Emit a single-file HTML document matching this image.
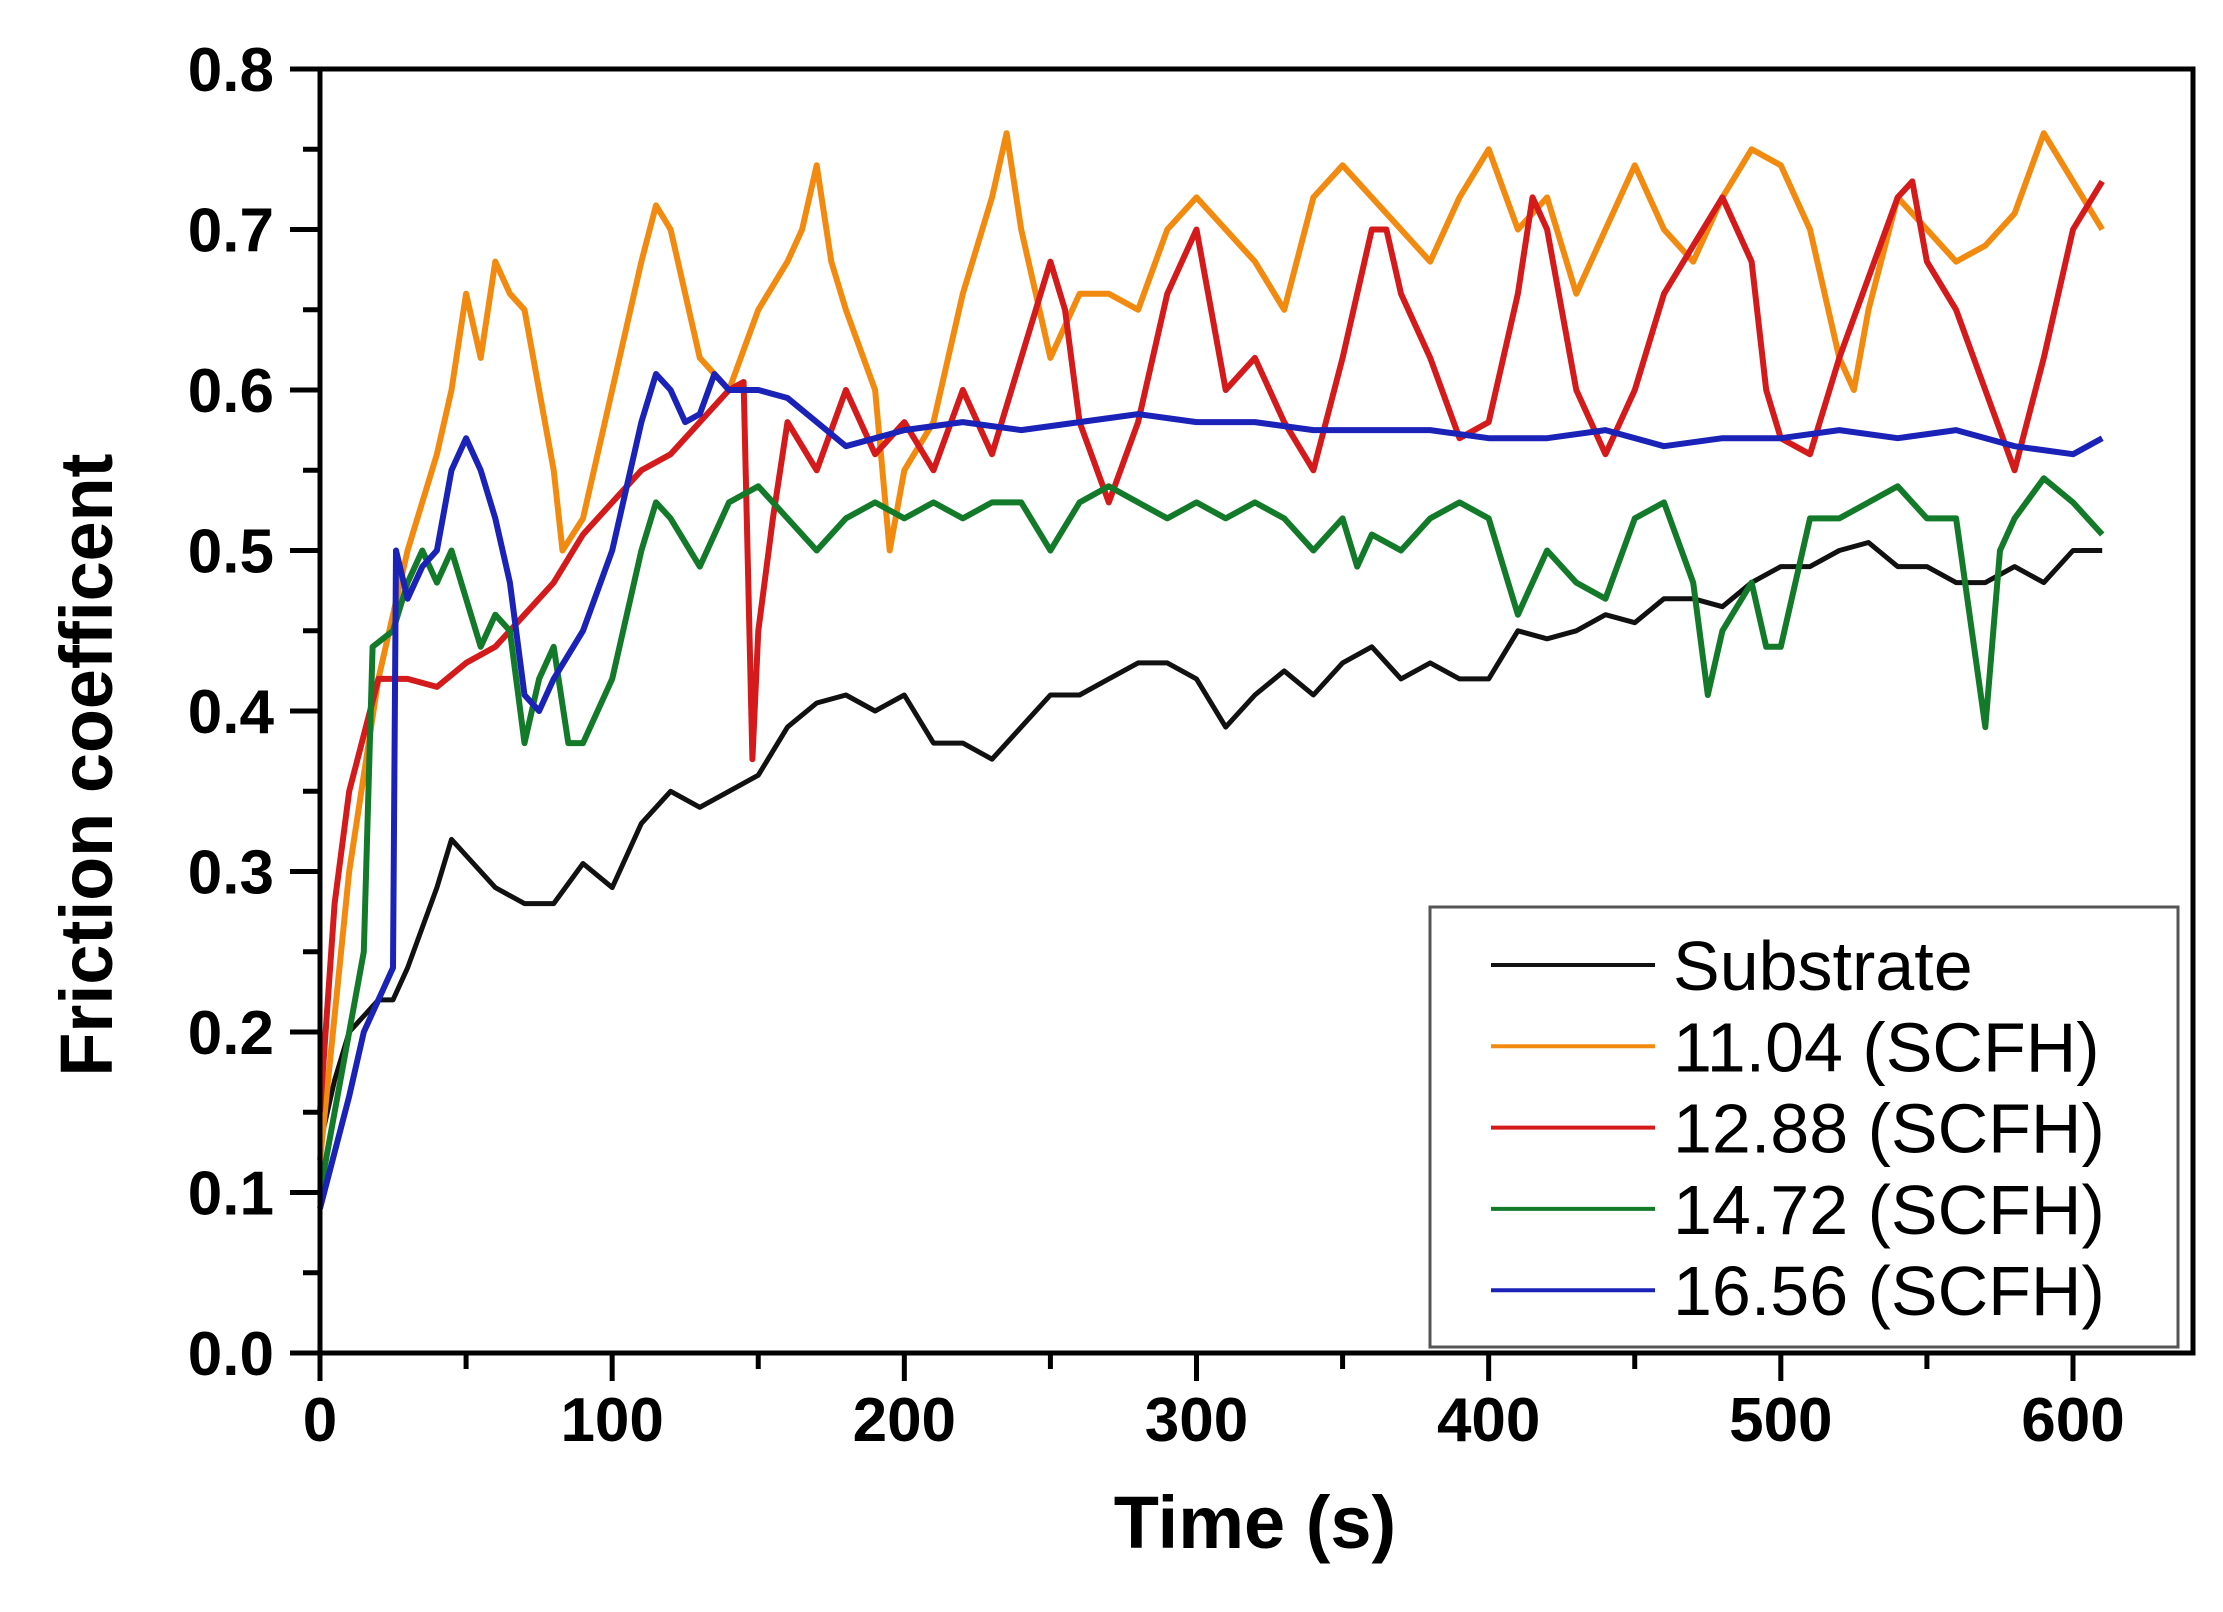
<!DOCTYPE html>
<html><head><meta charset="utf-8"><style>
html,body{margin:0;padding:0;background:#fff;}
svg{display:block;font-family:"Liberation Sans",Arial,sans-serif;}
</style></head><body>
<svg id="chart" width="2223" height="1612" viewBox="0 0 2223 1612" xmlns="http://www.w3.org/2000/svg">
<g id="plot"></g>
<g id="axes"></g>
<g id="legend"></g>
</svg>
<script>
const xTicks=[0,100,200,300,400,500,600];
const yTicks=[0.0,0.1,0.2,0.3,0.4,0.5,0.6,0.7,0.8];
const seriesNames=["Substrate","11.04 (SCFH)","12.88 (SCFH)","14.72 (SCFH)","16.56 (SCFH)"];
const subT=[0,5,10,15,20,25,30,40,45,50,60,70,80,90,100,110,120,130,140,150,160,170,180,190,200,210,220,230,240,250,260,270,280,290,300,310,320,330,340,350,360,370,380,390,400,410,420,430,440,450,460,470,480,490,500,510,520,530,540,550,560,570,580,590,600,610];
const subV=[0.13,0.17,0.2,0.21,0.22,0.22,0.24,0.29,0.32,0.31,0.29,0.28,0.28,0.305,0.29,0.33,0.35,0.34,0.35,0.36,0.39,0.405,0.41,0.40,0.41,0.38,0.38,0.37,0.39,0.41,0.41,0.42,0.43,0.43,0.42,0.39,0.41,0.425,0.41,0.43,0.44,0.42,0.43,0.42,0.42,0.45,0.445,0.45,0.46,0.455,0.47,0.47,0.465,0.48,0.49,0.49,0.50,0.505,0.49,0.49,0.48,0.48,0.49,0.48,0.50,0.50];
const orT=[0,10,20,30,40,45,50,55,60,65,70,80,83,90,100,110,115,120,130,140,150,160,165,170,175,180,190,195,200,210,220,230,235,240,250,260,270,280,290,300,310,320,330,340,350,360,370,380,390,400,410,420,430,440,450,460,470,480,490,500,510,520,525,530,540,550,560,570,580,590,600,610];
const orV=[0.12,0.3,0.42,0.5,0.56,0.6,0.66,0.62,0.68,0.66,0.65,0.55,0.5,0.52,0.6,0.68,0.715,0.7,0.62,0.6,0.65,0.68,0.7,0.74,0.68,0.65,0.6,0.5,0.55,0.58,0.66,0.72,0.76,0.7,0.62,0.66,0.66,0.65,0.7,0.72,0.7,0.68,0.65,0.72,0.74,0.72,0.7,0.68,0.72,0.75,0.7,0.72,0.66,0.7,0.74,0.7,0.68,0.72,0.75,0.74,0.7,0.62,0.6,0.65,0.72,0.7,0.68,0.69,0.71,0.76,0.73,0.7];
const rdT=[0,5,10,20,30,40,50,60,70,80,90,100,110,120,130,140,145,148,150,155,160,170,180,190,200,210,220,230,240,250,255,260,270,280,290,300,310,320,330,340,350,360,365,370,380,390,400,410,415,420,430,440,450,460,470,480,490,495,500,510,520,530,540,545,550,560,570,580,590,600,610];
const rdV=[0.15,0.28,0.35,0.42,0.42,0.415,0.43,0.44,0.46,0.48,0.51,0.53,0.55,0.56,0.58,0.6,0.605,0.37,0.45,0.52,0.58,0.55,0.6,0.56,0.58,0.55,0.6,0.56,0.62,0.68,0.65,0.58,0.53,0.58,0.66,0.7,0.6,0.62,0.58,0.55,0.62,0.7,0.7,0.66,0.62,0.57,0.58,0.66,0.72,0.7,0.6,0.56,0.6,0.66,0.69,0.72,0.68,0.6,0.57,0.56,0.62,0.67,0.72,0.73,0.68,0.65,0.6,0.55,0.62,0.7,0.73];
const grT=[0,10,15,18,25,30,35,40,45,50,55,60,65,70,75,80,85,90,100,110,115,120,130,140,150,160,170,180,190,200,210,220,230,240,250,260,270,280,290,300,310,320,330,340,350,355,360,370,380,390,400,410,420,430,440,450,460,470,475,480,490,495,500,510,520,530,540,550,560,570,575,580,590,600,610];
const grV=[0.1,0.2,0.25,0.44,0.45,0.48,0.5,0.48,0.5,0.47,0.44,0.46,0.45,0.38,0.42,0.44,0.38,0.38,0.42,0.5,0.53,0.52,0.49,0.53,0.54,0.52,0.5,0.52,0.53,0.52,0.53,0.52,0.53,0.53,0.5,0.53,0.54,0.53,0.52,0.53,0.52,0.53,0.52,0.5,0.52,0.49,0.51,0.5,0.52,0.53,0.52,0.46,0.5,0.48,0.47,0.52,0.53,0.48,0.41,0.45,0.48,0.44,0.44,0.52,0.52,0.53,0.54,0.52,0.52,0.39,0.5,0.52,0.545,0.53,0.51];
const blT=[0,10,15,20,25,26,30,35,40,45,50,55,60,65,70,75,80,90,100,110,115,120,125,130,135,140,150,160,170,180,190,200,220,240,260,280,300,320,340,360,380,400,420,440,460,480,500,520,540,560,580,600,610];
const blV=[0.09,0.16,0.2,0.22,0.24,0.5,0.47,0.49,0.5,0.55,0.57,0.55,0.52,0.48,0.41,0.4,0.42,0.45,0.5,0.58,0.61,0.6,0.58,0.585,0.61,0.6,0.6,0.595,0.58,0.565,0.57,0.575,0.58,0.575,0.58,0.585,0.58,0.58,0.575,0.575,0.575,0.57,0.57,0.575,0.565,0.57,0.57,0.575,0.57,0.575,0.565,0.56,0.57];
const colors=["#111111","#f28a10","#d41a1a","#137a2a","#1a22b8"];

const NS="http://www.w3.org/2000/svg";
const X0=320,X1=2193,Y0=69,Y1=1353;
function xs(t){return X0+(t-0)/600*(2073-X0);}
function ys(v){return Y1-v/0.8*(Y1-Y0);}
function mk(tag,attrs,parent){const e=document.createElementNS(NS,tag);for(const k in attrs)e.setAttribute(k,attrs[k]);parent.appendChild(e);return e;}
const plot=document.getElementById('plot'),axes=document.getElementById('axes'),legend=document.getElementById('legend');
const data=[[subT,subV],[orT,orV],[rdT,rdV],[grT,grV],[blT,blV]];
const ids=["substrate","11-04","12-88","14-72","16-56"];
data.forEach((d,i)=>{
  const pts=d[0].map((t,j)=>xs(t).toFixed(1)+','+ys(d[1][j]).toFixed(1)).join(' ');
  const p=mk('polyline',{points:pts,fill:'none',stroke:colors[i],'stroke-width':i==0?5:6,'stroke-linejoin':'round'},plot);
  
  
});
const fr=mk('rect',{x:X0,y:Y0,width:X1-X0,height:Y1-Y0,fill:'none',stroke:'#000','stroke-width':5},axes);


xTicks.forEach(t=>{
  const tk=mk('line',{x1:xs(t),x2:xs(t),y1:Y1,y2:Y1+28,stroke:'#000','stroke-width':5},axes);
  
  
  const lb=mk('text',{x:xs(t),y:Y1+88,'text-anchor':'middle','font-size':62,'font-weight':'bold'},axes);
  lb.textContent=t;
  
  
  if(t<600){const m=mk('line',{x1:xs(t+50),x2:xs(t+50),y1:Y1,y2:Y1+16,stroke:'#000','stroke-width':5},axes);
  
  }
});
yTicks.forEach(v=>{
  const tk=mk('line',{x1:X0-30,x2:X0,y1:ys(v),y2:ys(v),stroke:'#000','stroke-width':5},axes);
  
  
  const lb=mk('text',{x:274,y:ys(v)+22,'text-anchor':'end','font-size':62,'font-weight':'bold'},axes);
  lb.textContent=v.toFixed(1);
  
  
  if(v<0.8){const m=mk('line',{x1:X0-17,x2:X0,y1:ys(v+0.05),y2:ys(v+0.05),stroke:'#000','stroke-width':5},axes);
  
  }
});
const xt=mk('text',{x:1255,y:1548,'text-anchor':'middle','font-size':74,'font-weight':'bold'},axes);
xt.textContent='Time (s)';


const yt=mk('text',{x:0,y:0,'text-anchor':'middle','font-size':74,'font-weight':'bold',transform:'translate(112,765) rotate(-90)',textLength:623,lengthAdjust:'spacingAndGlyphs'},axes);
yt.textContent='Friction coefficent';


const lbx=mk('rect',{x:1430,y:907,width:748,height:440,fill:'#fff',stroke:'#555','stroke-width':3},legend);


seriesNames.forEach((n,i)=>{
  const yy=965+i*81.3;
  const g=mk('g',{},legend);
  
  
  mk('line',{x1:1491,x2:1655,y1:yy,y2:yy,stroke:colors[i],'stroke-width':4},g);
  const t=mk('text',{x:1673,y:yy+25,'font-size':70},g);
  t.textContent=n;
});
</script>
</body></html>
